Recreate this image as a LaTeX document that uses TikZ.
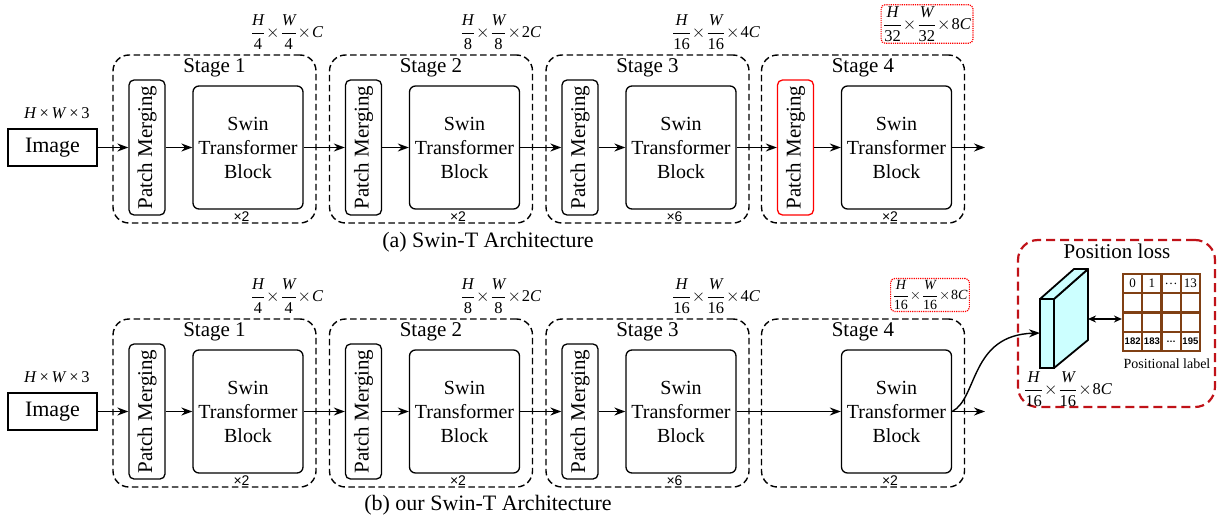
\documentclass[tikz,border=0pt]{standalone}
\usepackage{fontspec}
\setmainfont{Liberation Serif}
\setsansfont{Liberation Sans}
\usetikzlibrary{arrows.meta,positioning,calc}

\definecolor{lossred}{RGB}{192,18,24}
\definecolor{gridbrown}{RGB}{128,64,20}
\definecolor{cubefill}{RGB}{204,255,255}
\newcommand{\dimlbl}[2]{$\displaystyle\frac{\textit{H}}{\mbox{#1}}\!\times\!\frac{\textit{W}}{\mbox{#1}}\!\times\!\mbox{#2}\textit{C}$}

\begin{document}
\begin{tikzpicture}[x=1pt, y=-1pt,
  stagebox/.style={draw, dash pattern=on 6.5pt off 3.5pt, line width=1.4pt, rounded corners=16pt, minimum width=203pt, minimum height=168pt},
  pm/.style={draw, line width=1.3pt, rounded corners=5pt, minimum width=36pt, minimum height=135pt, inner sep=0pt, font=\fontsize{21}{22}\selectfont},
  swin/.style={draw, line width=1.3pt, rounded corners=6pt, minimum width=110pt, minimum height=123pt, align=center, font=\fontsize{20}{24}\selectfont},
  title/.style={font=\fontsize{21}{22}\selectfont},
  mult/.style={font=\sffamily\fontsize{14}{15}\selectfont, inner sep=0pt},
  dim/.style={font=\fontsize{16.5}{18}\selectfont, inner sep=2pt},
  dimred/.style={dim, draw=red, densely dotted, line width=1.2pt, rounded corners=4pt},
  imgbox/.style={draw, line width=1.3pt, minimum width=89pt, minimum height=37pt, font=\fontsize{22}{24}\selectfont},
  caption/.style={font=\fontsize{22}{24}\selectfont},
  arr/.style={line width=1.4pt, -{Stealth[length=11pt,width=8pt]}},
  cell/.style={draw=gridbrown, line width=2.2pt, minimum size=19.25pt, inner sep=0pt, font=\fontsize{13}{14}\selectfont},
]
\useasboundingbox (0,0) rectangle (1225,519);

% (a) Swin-T
\node[imgbox] (img) at (52.5,147.5) {Image};
\node[dim] at (57,113) {\textit{H}\,×\,\textit{W}\,×\,3};
\foreach \i/\x/\n/\pmc in {1/214.5/2/black, 2/431/2/black, 3/647.5/6/black, 4/863/2/red}{
  \node[stagebox] (st\i) at (\x,139) {};
  \node[title] at (\x,68) {Stage \i};
  \node[pm, draw=\pmc] (pa\i) at (\x-67.5,147.5) {\rotatebox{90}{Patch Merging}};
  \node[swin] (sw\i) at (\x+33.5,147.5) {Swin\\Transformer\\Block};
  \node[mult] at (\x+27,217) {×\n};
}
\node[dim] at (287,32) {\dimlbl{4}{}};
\node[dim] at (501,32) {\dimlbl{8}{2}};
\node[dim] at (716,32) {\dimlbl{16}{4}};
\node[dimred] at (927,24) {\dimlbl{32}{8}};
\coordinate (outa) at (985,147.5);
\draw[arr] (img) -- (pa1);
\foreach \i in {1,...,4} \draw[arr] (pa\i) -- (sw\i);
\foreach \i/\j in {1/2, 2/3, 3/4} \draw[arr] (sw\i) -- (pa\j);
\draw[arr] (sw4) -- (outa);
\node[caption] at (488,242) {(a) Swin-T Architecture};

% (b) our Swin-T
\node[imgbox] (bimg) at (52.5,411.5) {Image};
\node[dim] at (57,377) {\textit{H}\,×\,\textit{W}\,×\,3};
\foreach \i/\x/\n in {1/214.5/2, 2/431/2, 3/647.5/6, 4/863/2}{
  \node[stagebox] (bst\i) at (\x,403) {};
  \node[title] at (\x,332) {Stage \i};
  \node[swin] (bsw\i) at (\x+33.5,411.5) {Swin\\Transformer\\Block};
  \node[mult] at (\x+27,481) {×\n};
}
\foreach \i/\x in {1/214.5, 2/431, 3/647.5}
  \node[pm] (bpa\i) at (\x-67.5,411.5) {\rotatebox{90}{Patch Merging}};
\node[dim] at (287,296) {\dimlbl{4}{}};
\node[dim] at (501,296) {\dimlbl{8}{2}};
\node[dim] at (716,296) {\dimlbl{16}{4}};
\node[dimred, font=\fontsize{14}{16}\selectfont] at (930,295) {\dimlbl{16}{8}};
\coordinate (outb) at (985,411.5);
\draw[arr] (bimg) -- (bpa1);
\foreach \i in {1,...,3} \draw[arr] (bpa\i) -- (bsw\i);
\foreach \i/\j in {1/2, 2/3} \draw[arr] (bsw\i) -- (bpa\j);
\draw[arr] (bsw3) -- (bsw4);
\draw[arr] (bsw4) -- (outb);
\node[caption] at (488,505) {(b) our Swin-T Architecture};

% position loss
\node[draw=lossred, dash pattern=on 9pt off 5pt, line width=2.2pt, rounded corners=20pt, minimum width=197pt, minimum height=167pt] (loss) at (1116.5,323.5) {};
\node[font=\fontsize{21}{22}\selectfont] at (1117,251) {Position loss};
\filldraw[fill=cubefill, line width=1.8pt, line join=round] (1054,299) -- (1088,269) -- (1088,340) -- (1054,368) -- cycle;
\filldraw[fill=cubefill, line width=1.8pt, line join=round] (1040,299) -- (1074,269) -- (1088,269) -- (1054,299) -- cycle;
\filldraw[fill=cubefill, line width=1.8pt] (1040,299) rectangle (1054,368);
\coordinate (cubein) at (1040,333);
\coordinate (cubeout) at (1088,319);
\node[dim, anchor=west] at (1022,389) {\dimlbl{16}{8}};
\draw[arr] (bsw4.east) .. controls (978,398) and (970,335) .. (cubein);
\foreach \r in {1,...,4}
  \foreach \c in {1,...,4}
    \node[cell] (c\r\c) at (1123+19.25*\c-9.6, 274+19.25*\r-9.6) {};
\node[cell, draw=none] at (c11) {0};
\node[cell, draw=none] at (c12) {1};
\node[cell, draw=none] at (c13) {\ldots};
\node[cell, draw=none] at (c14) {13};
\foreach \c/\t in {1/182, 2/183, 3/\ldots, 4/195}
  \node[cell, draw=none, font=\sffamily\fontsize{9.5}{10}\selectfont\bfseries] at (c4\c) {\t};
\draw[line width=1.4pt, {Stealth[length=8pt,width=7pt]}-{Stealth[length=8pt,width=7pt]}] (cubeout) -- (c21.west |- cubeout);
\node[font=\fontsize{14}{16}\selectfont] (plabel) at (1167,364) {Positional label};
\end{tikzpicture}
\end{document}
